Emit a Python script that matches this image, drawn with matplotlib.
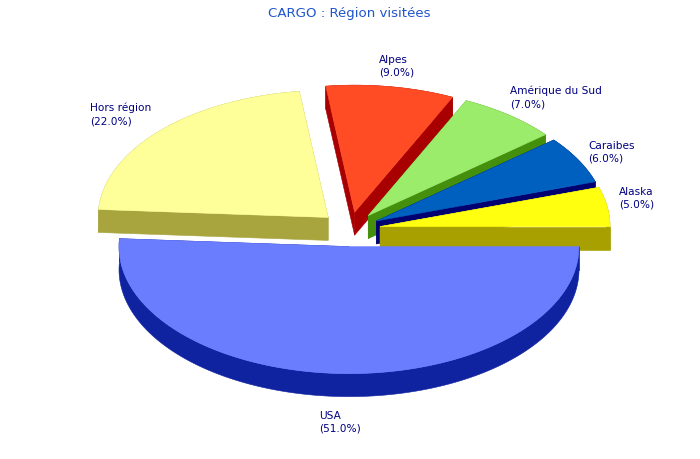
import numpy as np
import matplotlib
matplotlib.use("Agg")
import matplotlib.pyplot as plt
from matplotlib.patches import Polygon

# Data
categories = ["Alaska", "Caraibes", "Amérique du Sud", "Alpes", "Hors région", "USA"]
values = [5.0, 6.0, 7.0, 9.0, 22.0, 51.0]
top_colors = ["#FFFF0F", "#0060BF", "#9CEC6C", "#FF4C25", "#FFFF99", "#6A7DFF"]
side_colors = ["#A8A000", "#000070", "#44900C", "#A80000", "#A8A53F", "#0F23A0"]
title = "CARGO : Région visitées"

# Layout (pixel space)
CX, CY, RX, RY, DEPTH, EXPLODE = 349, 230.3, 230, 127, 23, 31.4
label_pos = [(619, 198.5), (588, 152.5), (510, 97.5), (379, 66.5), (90, 114.5), (319, 422.5)]
nudge_x = [0, 0, 0, 0.7, 2, 1]
draw_order = [4, 3, 2, 1, 0, 5]

fig = plt.figure(figsize=(7, 4.6), dpi=100)
ax = fig.add_axes([0, 0, 1, 1])
ax.set_xlim(0, 700)
ax.set_ylim(460, 0)
ax.axis("off")

edges = np.concatenate([[0], np.cumsum(values)]) / sum(values) * 2 * np.pi


def slice_points(start, end, nudge):
    mid = (start + end) / 2
    ax_x = CX + nudge + EXPLODE * np.cos(mid)
    ax_y = CY - EXPLODE * RY / RX * np.sin(mid)
    t = np.linspace(start, end, 200)
    return ax_x, ax_y, ax_x + RX * np.cos(t), ax_y - RY * np.sin(t)


for i in draw_order:
    x0, y0, xs, ys = slice_points(edges[i], edges[i + 1], nudge_x[i])
    side = side_colors[i]
    kw = dict(closed=True, facecolor=side, edgecolor=side, linewidth=0.4)
    # radial walls
    for xr, yr in ((xs[0], ys[0]), (xs[-1], ys[-1])):
        ax.add_patch(Polygon([(x0, y0), (xr, yr), (xr, yr + DEPTH), (x0, y0 + DEPTH)], **kw))
    # rim wall
    rim = np.column_stack([np.r_[xs, xs[::-1]], np.r_[ys, ys[::-1] + DEPTH]])
    ax.add_patch(Polygon(rim, **kw))
    # top face
    top = np.column_stack([np.r_[x0, xs], np.r_[y0, ys]])
    ax.add_patch(Polygon(top, closed=True, facecolor=top_colors[i], edgecolor=top_colors[i], linewidth=0.4))

for name, val, (x, y) in zip(categories, values, label_pos):
    ax.text(x, y, f"{name}\n({val:.1f}%)", fontsize=7.55, color="#000080", ha="left", va="center",
            linespacing=1.32, family="DejaVu Sans")

ax.text(349.5, 13, title, fontsize=9.6, color="#1F55CC", ha="center", va="center", family="DejaVu Sans")

fig.savefig("out.png", dpi=100, facecolor="white")
